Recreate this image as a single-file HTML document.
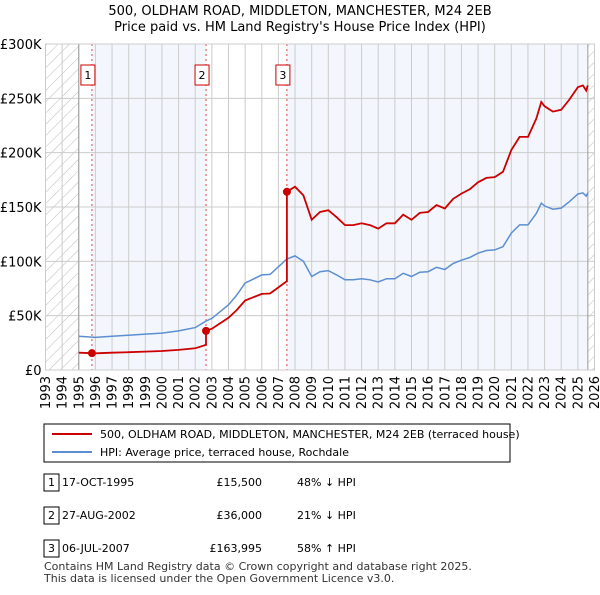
<!DOCTYPE html>
<html><head><meta charset="utf-8"><style>
body{margin:0;background:#fff;font-family:"Liberation Sans","DejaVu Sans",sans-serif;}
svg text{font-family:"DejaVu Sans","Liberation Sans",sans-serif;}
</style></head><body>
<svg id="c" width="600" height="590" xmlns="http://www.w3.org/2000/svg">
<defs><pattern id="hatch" width="8" height="8" patternUnits="userSpaceOnUse" patternTransform="rotate(45)"><line x1="0" y1="0" x2="0" y2="8" stroke="#bbb" stroke-width="1"/></pattern></defs>
<text x="300" y="15" text-anchor="middle" font-size="13">500, OLDHAM ROAD, MIDDLETON, MANCHESTER, M24 2EB</text>
<text x="300" y="31" text-anchor="middle" font-size="13">Price paid vs. HM Land Registry's House Price Index (HPI)</text>
<g id="plot"></g>
<rect x="44" y="424" width="466" height="38" fill="#fff" stroke="#000" stroke-width="1"/>
<line x1="52" y1="434" x2="92" y2="434" stroke="#cc0000" stroke-width="2"/>
<text x="100" y="438" font-size="11">500, OLDHAM ROAD, MIDDLETON, MANCHESTER, M24 2EB (terraced house)</text>
<line x1="52" y1="452" x2="92" y2="452" stroke="#5b8fd1" stroke-width="2"/>
<text x="100" y="456" font-size="11">HPI: Average price, terraced house, Rochdale</text>
<g font-size="11">
<rect x="44" y="474" width="15" height="17" fill="#fff" stroke="#000"/><text x="51.5" y="486" text-anchor="middle">1</text>
<text x="62" y="486">17-OCT-1995</text><text x="262" y="486" text-anchor="end">£15,500</text><text x="297" y="486">48% ↓ HPI</text>
<rect x="44" y="507" width="15" height="17" fill="#fff" stroke="#000"/><text x="51.5" y="519" text-anchor="middle">2</text>
<text x="62" y="519">27-AUG-2002</text><text x="262" y="519" text-anchor="end">£36,000</text><text x="297" y="519">21% ↓ HPI</text>
<rect x="44" y="540" width="15" height="17" fill="#fff" stroke="#000"/><text x="51.5" y="552" text-anchor="middle">3</text>
<text x="62" y="552">06-JUL-2007</text><text x="262" y="552" text-anchor="end">£163,995</text><text x="297" y="552">58% ↑ HPI</text>
</g>
<text x="44" y="570" font-size="11" fill="#333">Contains HM Land Registry data © Crown copyright and database right 2025.</text>
<text x="44" y="582" font-size="11" fill="#333">This data is licensed under the Open Government Licence v3.0.</text>
</svg>
<script>
const hpiYears=[1995,1996,1997,1998,1999,2000,2001,2002,2002.65,2003,2004,2004.5,2005,2006,2006.5,2007,2007.5,2008,2008.5,2009,2009.5,2010,2010.5,2011,2011.5,2012,2012.5,2013,2013.5,2014,2014.5,2015,2015.5,2016,2016.5,2017,2017.5,2018,2018.5,2019,2019.5,2020,2020.5,2021,2021.5,2022,2022.5,2022.8,2023,2023.5,2024,2024.5,2025,2025.3,2025.5,2025.6];
const hpiValues=[31,30,31,32,33,34,36,39,45,47.5,60,69,80,87.5,88,95,102,105,100,86,90.5,91.5,87.5,83,83,84,83,81,84,84,89,86,90,90.5,94.5,92.5,98,101,103.5,107.5,110,110.5,113.5,126,133.5,133.5,144,153.5,151,148,149,155,162,163,160,163];
const saleDates=[1995.79,2002.65,2007.51];
const salePrices=[15.5,36,163.995];
const salesLabels=["1","2","3"];
const yTicks=[0,50,100,150,200,250,300];
const yTickLabels=["£0","£50K","£100K","£150K","£200K","£250K","£300K"];
const xTicks=[];for(let y=1993;y<=2026;y++)xTicks.push(y);

const X0=45.5,X1=594.5,Y0=370,Y1=44;
const xs=v=>X0+(v-1993)/33*(X1-X0);
const ys=v=>Y0-v/300*(Y0-Y1);
const g=document.getElementById('plot');
const NS="http://www.w3.org/2000/svg";
function mk(t,a){const e=document.createElementNS(NS,t);for(const k in a)e.setAttribute(k,a[k]);g.appendChild(e);return e;}
// background bands
let e=mk('rect',{x:X0,y:Y1,width:xs(1995)-X0,height:Y0-Y1,fill:'url(#hatch)'});


const endX=xs(2025.6);
e=mk('rect',{x:endX,y:Y1,width:X1-endX,height:Y0-Y1,fill:'url(#hatch)'});


e=mk('rect',{x:xs(saleDates[0]),y:Y1,width:xs(saleDates[1])-xs(saleDates[0]),height:Y0-Y1,fill:'#f3f6fd'});


e=mk('rect',{x:xs(saleDates[2]),y:Y1,width:endX-xs(saleDates[2]),height:Y0-Y1,fill:'#f3f6fd'});


// grid
xTicks.forEach(t=>{const x=xs(t);
 e=mk('line',{x1:x,y1:Y1,x2:x,y2:Y0,stroke:'#ccc','stroke-width':1});
 
 
 e=mk('text',{x:0,y:0,'font-size':13,'text-anchor':'end',transform:`translate(${x+4.5},${Y0+6}) rotate(-90)`});
 e.textContent=t;
 
 
});
yTicks.forEach((t,i)=>{const y=ys(t);
 e=mk('line',{x1:X0,y1:y,x2:X1,y2:y,stroke:'#ccc','stroke-width':1});
 
 
 e=mk('text',{x:X0-4,y:y+5,'font-size':13,'text-anchor':'end'});
 e.textContent=yTickLabels[i];
 
 
});
e=mk('line',{x1:xs(1995),y1:Y1,x2:xs(1995),y2:Y0,stroke:'#999'});


e=mk('line',{x1:endX,y1:Y1,x2:endX,y2:Y0,stroke:'#999'});


// sale lines & labels
saleDates.forEach((d,i)=>{const x=xs(d);
 e=mk('line',{x1:x,y1:Y1,x2:x,y2:Y0,stroke:'#e04040','stroke-dasharray':'2,3','stroke-width':1});
 
 
 e=mk('rect',{x:x-11,y:65,width:14,height:20,fill:'#fff',stroke:'#cc0000'});
 
 
 e=mk('text',{x:x-4,y:79,'font-size':11,'text-anchor':'middle'});
 e.textContent=salesLabels[i];
 
 
});
// HPI line
const hp=hpiYears.map((y,i)=>xs(y).toFixed(1)+','+ys(hpiValues[i]).toFixed(1)).join(' ');
e=mk('polyline',{points:hp,fill:'none',stroke:'#5b8fd1','stroke-width':1.5});


// price line: HPI indexed from each sale
function hpiAt(t){for(let i=1;i<hpiYears.length;i++){if(t<=hpiYears[i]){const a=hpiYears[i-1],b=hpiYears[i];return hpiValues[i-1]+(hpiValues[i]-hpiValues[i-1])*(t-a)/(b-a);}}return hpiValues[hpiValues.length-1];}
const pts=[];
function seg(from,to,k){const r=salePrices[k]/hpiAt(saleDates[k]);const ts=[from,...hpiYears.filter(y=>y>from&&y<to),to];ts.forEach(t=>pts.push([t,hpiAt(t)*r]));}
seg(1995,saleDates[1],0);seg(saleDates[1],saleDates[2],1);seg(saleDates[2],2025.6,2);
e=mk('polyline',{points:pts.map(p=>xs(p[0]).toFixed(1)+','+ys(p[1]).toFixed(1)).join(' '),fill:'none',stroke:'#cc0000','stroke-width':1.8});


saleDates.forEach((d,i)=>{
 e=mk('circle',{cx:xs(d),cy:ys(salePrices[i]),r:4,fill:'#cc0000'});
 
 
});
e=mk('rect',{x:X0,y:Y1,width:X1-X0,height:Y0-Y1,fill:'none',stroke:'#ccc'});


</script>
</body></html>
